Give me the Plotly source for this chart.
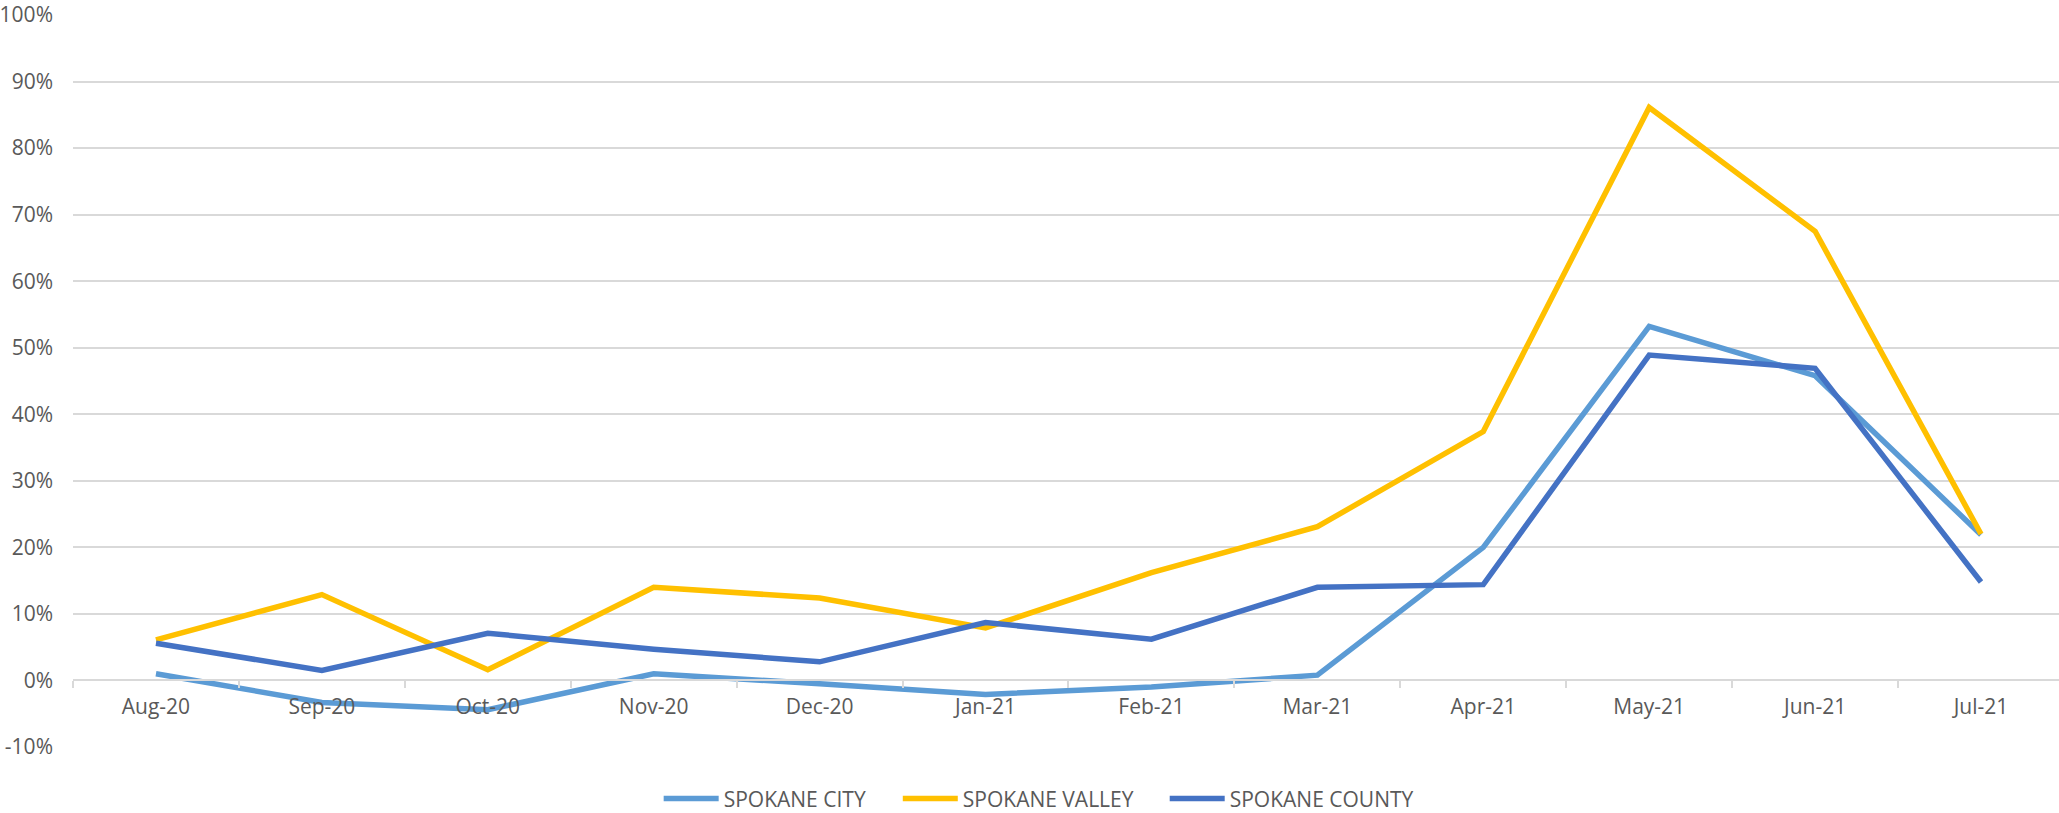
import plotly.graph_objects as go

months = ["Aug-20", "Sep-20", "Oct-20", "Nov-20", "Dec-20", "Jan-21",
          "Feb-21", "Mar-21", "Apr-21", "May-21", "Jun-21", "Jul-21"]

spokane_city = [1.0, -3.3, -4.4, 1.0, -0.5, -2.1, -1.0, 0.8, 20.0, 53.2, 45.8, 21.9]
spokane_valley = [6.1, 12.9, 1.6, 14.0, 12.4, 7.9, 16.2, 23.1, 37.4, 86.1, 67.5, 22.0]
spokane_county = [5.6, 1.5, 7.1, 4.7, 2.8, 8.7, 6.2, 14.0, 14.4, 48.9, 46.9, 14.8]

y_tick_values = [-10, 0, 10, 20, 30, 40, 50, 60, 70, 80, 90, 100]
y_tick_labels = ["-10%", "0%", "10%", "20%", "30%", "40%", "50%",
                 "60%", "70%", "80%", "90%", "100%"]

series = [
    ("SPOKANE CITY", spokane_city, "#5B9BD5", "legend", 0.2949),
    ("SPOKANE VALLEY", spokane_valley, "#FFC000", "legend2", 0.4153),
    ("SPOKANE COUNTY", spokane_county, "#4472C4", "legend3", 0.5497),
]

FONT = "Open Sans"
GREY = "#595959"
GRID = "#D9D9D9"

fig = go.Figure()
legends = {}
for name, vals, color, leg, lx in series:
    fig.add_trace(go.Scatter(
        x=months, y=vals, name=name, mode="lines",
        line=dict(color=color, width=5.5),
        legend=leg,
    ))
    legends[leg] = dict(
        orientation="h", x=lx, xanchor="left",
        y=-0.071, yanchor="middle",
        itemwidth=55,
        font=dict(family=FONT, size=21, color=GREY),
        bgcolor="rgba(0,0,0,0)",
    )

fig.update_layout(
    width=2059, height=813,
    margin=dict(l=73, r=0, t=15, b=66, autoexpand=False),
    paper_bgcolor="white", plot_bgcolor="white",
    font=dict(family=FONT, size=21, color=GREY),
    showlegend=True,
    **legends,
    xaxis=dict(
        type="category",
        range=[-0.5, 11.47],
        anchor="free", position=10 / 110,
        automargin=False,
        showgrid=False, zeroline=False,
        showline=True, linecolor=GRID, linewidth=1.5,
        ticks="outside", tickson="boundaries", ticklen=7,
        tickcolor=GRID, tickwidth=1.5,
        ticklabelstandoff=8,
        tickfont=dict(family=FONT, size=21, color=GREY),
    ),
    yaxis=dict(
        range=[-10, 100],
        automargin=False,
        tickmode="array", tickvals=y_tick_values, ticktext=y_tick_labels,
        showgrid=True, gridcolor=GRID, gridwidth=1.5,
        zeroline=False, showline=False, ticks="",
        ticklabelstandoff=19,
        tickfont=dict(family=FONT, size=21, color=GREY),
    ),
)

fig.write_html(
    "out.html",
    config={"displayModeBar": False},
    post_script="document.body.style.margin='0';document.body.style.overflow='hidden';",
)
